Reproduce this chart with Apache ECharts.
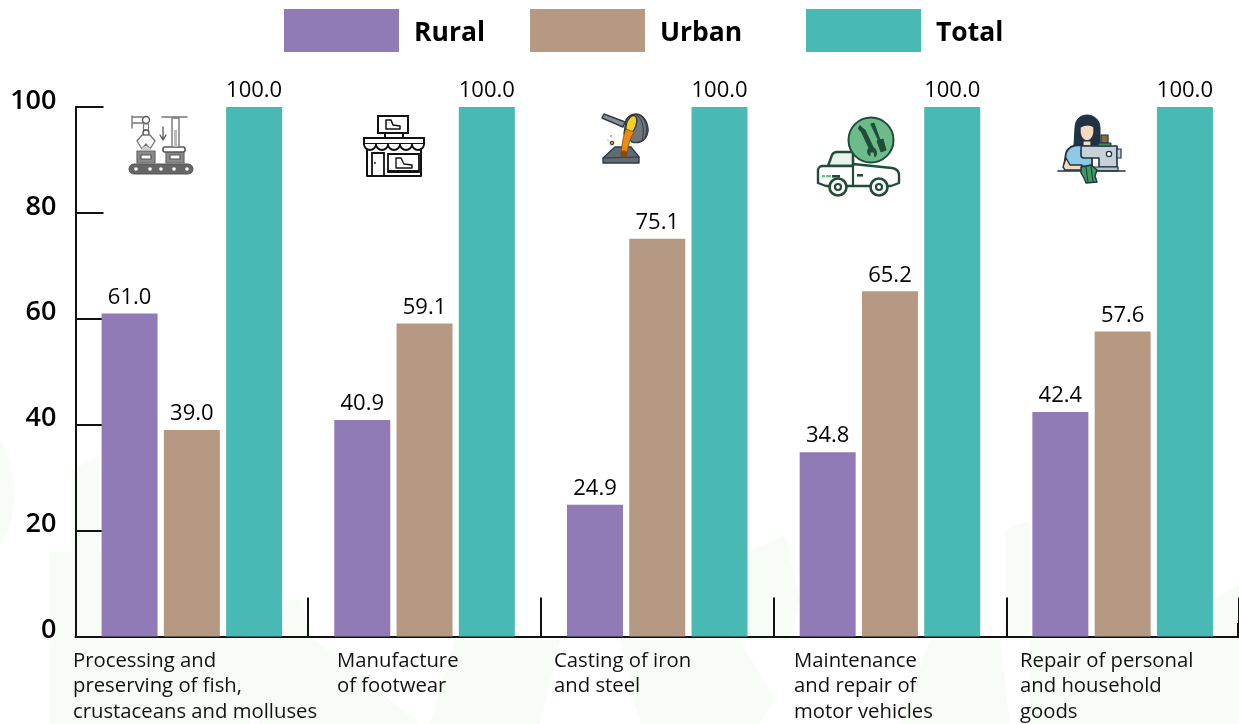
<!DOCTYPE html>
<html>
<head>
<meta charset="utf-8">
<style>html,body{margin:0;padding:0;background:#fff}#c{width:1239px;height:724px}</style>
<script src="https://cdn.jsdelivr.net/npm/echarts@6/dist/echarts.min.js"></script>
</head>
<body>
<div id="c"></div>
<script>
const categories = [
  "Processing and\npreserving of fish,\ncrustaceans and molluses",
  "Manufacture\nof footwear",
  "Casting of iron\nand steel",
  "Maintenance\nand repair of\nmotor vehicles",
  "Repair of personal\nand household\ngoods"
];
const rural = [61.0, 40.9, 24.9, 34.8, 42.4];
const urban = [39.0, 59.1, 75.1, 65.2, 57.6];
const total = [100.0, 100.0, 100.0, 100.0, 100.0];
const labelLeft = [73, 337, 554, 794, 1020];
const FONT = '"Open Sans","Noto Sans",sans-serif';

let pathCount = 0;
const P = (d, fill, stroke, lw, z) => {
  const type = 'iconPath' + (pathCount++);
  echarts.graphic.registerShape(type, echarts.graphic.extendPath(d, {}));
  return {type, silent:true, z:z||1,
    style:{fill:fill||'none', stroke:stroke||'none', lineWidth:lw||1, lineJoin:'round', lineCap:'round'}};
};
const C = (cx, cy, r, fill, stroke, lw) => ({type:'circle', silent:true, z:1, shape:{cx,cy,r},
  style:{fill:fill||'none', stroke:stroke||'none', lineWidth:lw||1}});
const R = (x, y, width, height, fill, stroke, lw, r) => ({type:'rect', silent:true, z:1, shape:{x,y,width,height,r:r||0},
  style:{fill:fill||'none', stroke:stroke||'none', lineWidth:lw||1}});

// faint background watermark
const wm = '#f8fcf6';
const watermark = [
  'M0 440 C20 470 18 520 0 545 Z',
  'M50 552 L105 552 L105 724 L50 724 Z',
  'M72 470 L100 455 L100 552 L72 552 Z',
  'M105 640 L290 640 L250 724 L105 724 Z',
  'M225 640 L245 640 L300 600 L315 640 L420 724 L260 724 Z',
  'M455 640 L560 640 L540 724 L430 724 Z',
  'M620 640 L740 640 L775 700 L760 724 L640 724 Z',
  'M730 560 L785 535 L800 600 L790 640 L730 640 Z',
  'M930 640 L1000 640 L1010 724 L900 724 Z',
  'M1005 530 L1030 520 L1030 640 L1005 640 Z',
  'M1030 640 L1239 640 L1239 724 L1030 724 Z',
  'M1212 600 L1239 585 L1239 640 L1212 640 Z',
  'M285 600 L298 600 L298 612 L285 612 Z'
].map(d => Object.assign(P(d, wm), {z:-10}));

// factory icon
const factory = [
  R(129,164,64,10,'#666','#555',1,5),
  ...[136,150,161,174,187].map(x => C(x,169,1.8,'#fff')),
  R(137,151,18,12,'#8a8a8a','#666',1.2), R(141,155,10,4,'#fff','#555',1.2),
  R(166,151,18,12,'#8a8a8a','#666',1.2), R(170,155,10,4,'#fff','#555',1.2),
  R(163,147,22,5,'#fff','#555',1.6,2),
  R(172,118,7,29,'#fff','#777',1.4), R(174,130,3,17,'#bbb'),
  P('M162 117 L187 117','none','#777',1.5),
  P('M132 116 L132 128 M132 117 L143 117 M132 123 L143 123','none','#777',1.4),
  C(146,120,3.5,'#fff','#555',1.4), R(143.5,124,5,6,'#fff','#777',1.2), C(146,133,3,'#fff','#555',1.4),
  P('M142 135 L137 141 L142 149 L146 144 L150 149 L155 141 L150 135 Z','#fff','#777',1.4),
  P('M141 150 C143 145 149 145 151 150 Z','#ccc'),
  P('M163 127 L163 139 M160 135 L163 140 L166 135','none','#555',1.3)
];
// shoe shop icon
const shop = [
  R(378,116,30,17,'#fff','#111',2),
  P('M386 120 L386 129 L400 129 L400 126 L393 125 L391 120 Z','#fff','#111',1.5),
  P('M385 133 L385 138 M403 133 L403 138','none','#111',2),
  R(364,138,60,6,'#fff','#111',2),
  P('M364 144 A6 6 0 0 0 376 144 A6 6 0 0 0 388 144 A6 6 0 0 0 400 144 A6 6 0 0 0 412 144 A6 6 0 0 0 424 144','#fff','#111',1.8),
  P('M367 150 L367 176 L421 176 L421 150','none','#111',2),
  R(372,153,12,23,'#fff','#111',1.8), C(375,163,0.9,'#111'),
  R(388,154,31,17,'#fff','#111',1.8),
  P('M396 158 L396 168 L412 168 L412 165 L404 164 L401 158 Z','#fff','#111',1.4),
  P('M388 172 L419 172','none','#111',1.8)
];
// casting icon
const casting = [
  P('M603 158 L615 147 L631 147 L639 157 L639 163 L603 163 Z','#5d6b75','#2f3a44',1.4),
  P('M603 158 L639 157','none','#2f3a44',1),
  P('M602 118 L604 114 L625 122 L623 127 Z','#8b8f93','#2f3a44',1.4),
  P('M626 120 C630 114 636 113 640 115 C646 118 650 128 647 135 C645 141 638 144 632 142 L624 134 Z','#6f767c','#2f3a44',1.4),
  P('M637 115 C643 120 645 130 642 140 M641 116 C647 122 648 130 645 138','none','#2f3a44',1),
  P('M626 126 C627 119 632 114 635 116 C638 118 637 125 634 130 C631 135 625 133 626 126 Z','#f7d117','#2f3a44',1.4),
  P('M626 129 L634 132 C630 138 628 146 627 154 L621 154 C622 144 623 136 626 129 Z','#ee8a10','#8a4b05',0.8),
  C(624,154,3.5,'#8a4b05'),
  C(612,143,1.8,'#c89020','#333',1), C(611,136,0.7,'#333'), C(608,140,0.5,'#333')
];
// vehicle repair icon
const dg = '#1f4d38';
const truck = [
  P('M828 166 L832 155 C833 153 835 152 837 152 L853 152 L853 166 Z','#e7f3ec',dg,2.4),
  P('M822 166 L853 166 L853 164 L892 168 C897 169 899 171 899 175 L899 183 L891 186 L826 186 L818 183 L818 170 C818 168 820 166 822 166 Z','#fff',dg,2.4),
  P('M853 152 L853 186','none',dg,2.2),
  R(822,175,3,2.4,'#6dbb8a'), R(826,175,5,2.4,'#6dbb8a'), R(832,175,8,2.6,dg), R(857,174,6,2.6,dg),
  C(838,187,8.5,'#fff',dg,2.6), C(838,187,3,'#fff',dg,2.2), C(879,187,8.5,'#fff',dg,2.6), C(879,187,3,'#fff',dg,2.2),
  C(871,140,22.5,'#6dbb8a',dg,2),
  P('M860 126 L865 130 L873 147 C876 149 878 153 875 157 L874 152 L870 152 L870 156 C867 154 867 150 869 148 L861 131 C858 130 858 127 860 126 Z',dg,dg,1),
  P('M871 124 L874 123 L880 140 L883 139 L886 150 L881 152 L877 141 L878 140 Z',dg,dg,1)
];
// sewing icon
const navy = '#1f3344';
const sew = [
  P('M1074 145 L1075 128 C1075 119 1081 115 1087 115 C1093 115 1100 119 1100 128 L1100 145 Z',navy,navy,1),
  P('M1064 166 L1066 153 C1068 147 1074 145 1080 145 L1092 147 L1092 167 Z','#8ecae6',navy,1.8),
  P('M1080 127 C1084 125 1090 124 1094 127 L1094 133 C1093 138 1090 141 1087 141 C1084 141 1081 138 1080 133 Z','#f6d9bf',navy,1.4),
  P('M1083 141 L1083 146 L1091 146 L1091 141 Z','#f6d9bf',navy,1.2),
  P('M1063 167 L1066 158 L1070 165 L1082 165 L1082 170 L1065 170 Z','#f6d9bf',navy,1.4),
  P('M1082 146 C1081 146 1081 147 1081 150 L1081 155 C1081 157 1082 158 1084 158 L1099 158 L1099 167 L1117 167 L1117 146 Z','#c8d0d8',navy,1.6),
  R(1101,135,7,8,'#8a6a45',navy,1.2), R(1098,143,13,3,'#3f8a5a',navy,1),
  C(1109,154,2.6,'#fff',navy,1.3),
  R(1117,149,4,9,'#c8d0d8',navy,1.2),
  R(1085,167,33,4,'#b7bfc8',navy,1.2),
  P('M1058 171 L1125 171','none',navy,1.6),
  P('M1081 167 L1091 165 L1097 170 L1095 176 L1097 182 L1086 183 L1084 178 L1081 173 Z','#3f9a5f',navy,1.4),
  P('M1086 167 L1088 182 M1091 166 L1093 182','none',navy,1)
];
const edgeTick = [R(1237,623,2,14,'#111')];

const catTexts = categories.map((t, i) => ({
  type:'text', silent:true, z:5, left:labelLeft[i], top:648,
  style:{text:t, font:'20.3px '+FONT, fill:'#111', lineHeight:25.5, textAlign:'left', textVerticalAlign:'top'}
}));

const barSeries = (name, data, color) => ({
  name, type:'bar', data, barWidth:56, barGap:'11.2%',
  itemStyle:{color},
  label:{show:true, position:'top', distance:5, formatter:p => p.value.toFixed(1),
         color:'#000', fontFamily:FONT, fontSize:22},
  silent:true
});
const legendAt = (name, left) => ({
  data:[name], left, top:4, orient:'horizontal', itemWidth:115, itemHeight:43, icon:'rect',
  selectedMode:false,
  formatter:n => '{t|' + n + '}',
  textStyle:{color:'#000', fontFamily:FONT, fontSize:26.5, fontWeight:'bold', padding:[0,0,0,10],
    rich:{t:{color:'#000', fontFamily:FONT, fontSize:26.5, fontWeight:'bold', padding:[6,0,0,0]}}}
});

const chart = echarts.init(document.getElementById('c'), null, {renderer:'canvas'});
chart.setOption({
  animation:false,
  backgroundColor:'#fff',
  legend:[legendAt('Rural',279), legendAt('Urban',525), legendAt('Total',801)],
  grid:{left:75.5, top:107, width:1164, height:529.5, containLabel:false},
  xAxis:{type:'category', data:categories,
    axisLine:{lineStyle:{color:'#111', width:2}},
    axisTick:{show:true, inside:true, length:39, alignWithLabel:false, lineStyle:{color:'#111', width:2}},
    axisLabel:{show:false}},
  yAxis:{type:'value', min:0, max:100, interval:20,
    axisLine:{show:true, lineStyle:{color:'#111', width:2}},
    axisTick:{show:true, inside:true, length:28, lineStyle:{color:'#111', width:2}},
    splitLine:{show:false},
    axisLabel:{color:'#000', fontFamily:FONT, fontSize:27, fontWeight:600, margin:19, verticalAlign:'bottom', lineHeight:12}},
  series:[barSeries('Rural',rural,'#917bb6'), barSeries('Urban',urban,'#b69983'), barSeries('Total',total,'#49bab3')],
  graphic:{elements:[...watermark, ...factory, ...shop, ...casting, ...truck, ...sew, ...edgeTick, ...catTexts]}
});
</script>
</body>
</html>
